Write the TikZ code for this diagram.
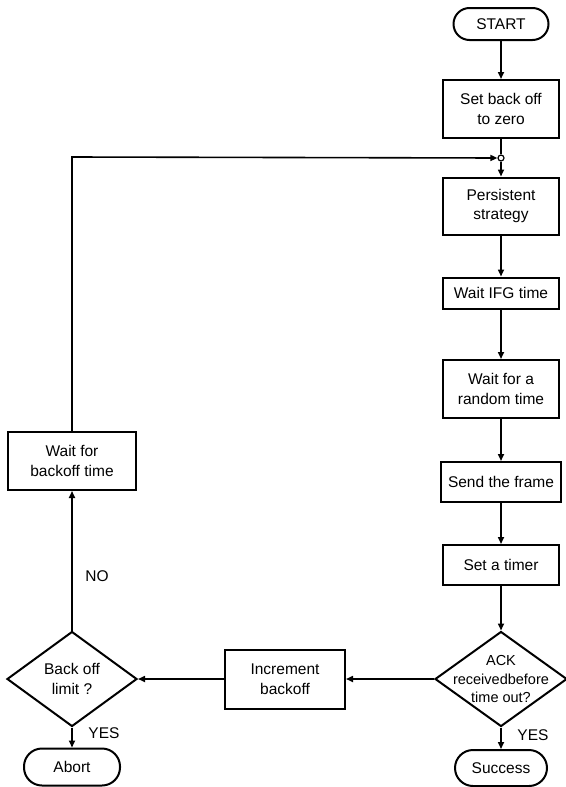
\documentclass[tikz,border=0pt]{standalone}
\usepackage{fontspec}
\setmainfont{Liberation Sans}
\usetikzlibrary{shapes.geometric,arrows.meta}
\begin{document}
\begin{tikzpicture}[x=1pt,y=-1pt,
  font=\fontsize{15.5}{19.5}\selectfont,
  box/.style={draw,line width=2pt,align=center,inner sep=0pt},
  term/.style={draw,line width=2pt,rounded corners=16pt,inner sep=0pt},
  dec/.style={draw,line width=2pt,diamond,inner sep=0pt},
  dtext/.style={align=center,inner sep=0pt,font=\fontsize{14.5}{18.5}\selectfont},
  arr/.style={line width=1.6pt,-{Triangle[length=7pt,width=6pt]}},
  ln/.style={line width=1.6pt},
  lab/.style={inner sep=1pt}]
\useasboundingbox (0,0) rectangle (565,787);
\node[term,minimum width=95pt,minimum height=32pt] (start) at (501,24) {START};
\node[box,minimum width=116pt,minimum height=58pt] (set) at (501,109) {Set back off\\to zero};
\node[circle,draw,fill=white,line width=1.2pt,inner sep=0pt,minimum size=6pt] (j) at (501,158) {};
\node[box,minimum width=116pt,minimum height=57pt] (pers) at (501,206) {Persistent\\strategy};
\node[box,minimum width=116pt,minimum height=31pt] (ifg) at (501,293) {Wait IFG time};
\node[box,minimum width=116pt,minimum height=58pt] (rand) at (501,389) {Wait for a\\random time};
\node[box,minimum width=120pt,minimum height=40pt] (send) at (501,482) {Send the frame};
\node[box,minimum width=116pt,minimum height=40pt] (timer) at (501,565) {Set a timer};
\node[dec,minimum width=132pt,minimum height=95pt] (ack) at (501,679) {};
\node[dtext] (ackt) at (501,679) {ACK\\receivedbefore\\time out?};
\node[term,minimum width=92pt,minimum height=36pt,rounded corners=18pt] (succ) at (501,768) {Success};
\node[box,minimum width=120pt,minimum height=59pt] (inc) at (285,679) {Increment\\backoff};
\node[dec,minimum width=130pt,minimum height=95pt] (lim) at (72,679) {};
\node[dtext,font=\fontsize{15.5}{19.5}\selectfont] (limt) at (72,679) {Back off\\limit ?};
\node[term,minimum width=96pt,minimum height=37pt,rounded corners=18pt] (abort) at (72,767) {Abort};
\node[box,minimum width=128pt,minimum height=58pt] (wbo) at (72,461) {Wait for\\backoff time};
\coordinate (c1) at (72,157);
\node[lab] (yes1) at (533,735) {YES};
\node[lab] (yes2) at (104,733) {YES};
\node[lab] (no) at (97,576) {NO};
% connectors
\draw[arr] (start) -- (set);
\draw[ln] (set) -- (j);
\draw[arr] (j) -- (pers);
\draw[arr] (pers) -- (ifg);
\draw[arr] (ifg) -- (rand);
\draw[arr] (rand) -- (send);
\draw[arr] (send) -- (timer);
\draw[arr] (timer) -- (ack.north);
\draw[arr] (ack.south) -- (succ);
\draw[arr] (ack.west) -- (inc.east);
\draw[arr] (inc.west) -- (lim.east);
\draw[arr] (lim.south) -- (abort);
\draw[arr] (lim.north) -- (wbo.south);
\draw[arr] (wbo.north) -- (c1) -- (j.west);
\end{tikzpicture}
\end{document}
